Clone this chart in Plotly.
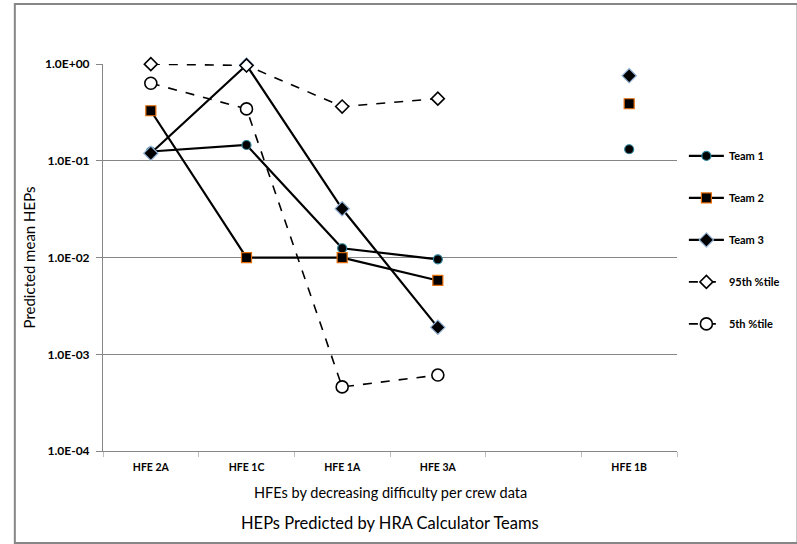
import plotly.graph_objects as go

# HFE categories ordered by decreasing difficulty (blank slot separates HFE 1B)
categories = ["HFE 2A", "HFE 1C", "HFE 1A", "HFE 3A", " ", "HFE 1B"]

team1 = [0.125, 0.146, 0.0125, 0.0096, None, 0.132]
team2 = [0.33, 0.010, 0.010, 0.0058, None, 0.39]
team3 = [0.12, 0.98, 0.032, 0.0019, None, 0.76]
pct95 = [1.0, 0.97, 0.365, 0.44, None, None]
pct05 = [0.636, 0.345, 0.00046, 0.00061, None, None]

y_tickvals = [1.0, 0.1, 0.01, 0.001, 0.0001]
y_ticktext = ["1.0E+00", "1.0E-01", "1.0E-02", "1.0E-03", "1.0E-04"]

FONT = "Lato"

fig = go.Figure()

fig.add_trace(go.Scatter(
    x=categories, y=team1, name="Team 1", mode="lines+markers",
    line=dict(color="black", width=2.2),
    marker=dict(symbol="circle", size=9, color="black",
                line=dict(color="#31859C", width=1.2)),
    legendgroup="g1", connectgaps=False, cliponaxis=False))
fig.add_trace(go.Scatter(
    x=categories, y=team2, name="Team 2", mode="lines+markers",
    line=dict(color="black", width=2.2),
    marker=dict(symbol="square", size=10, color="black",
                line=dict(color="#E46C0A", width=1.2)),
    legendgroup="g2", connectgaps=False, cliponaxis=False))
fig.add_trace(go.Scatter(
    x=categories, y=team3, name="Team 3", mode="lines+markers",
    line=dict(color="black", width=2.2),
    marker=dict(symbol="diamond", size=11, color="black",
                line=dict(color="#95B3D7", width=1.2)),
    legendgroup="g3", connectgaps=False, cliponaxis=False))
fig.add_trace(go.Scatter(
    x=categories, y=pct95, name="95th %tile", mode="lines+markers",
    line=dict(color="black", width=1.6, dash="dash"),
    marker=dict(symbol="diamond", size=10, color="white",
                line=dict(color="black", width=1.6)),
    legendgroup="g4", connectgaps=False, cliponaxis=False))
fig.add_trace(go.Scatter(
    x=categories, y=pct05, name="5th %tile", mode="lines+markers",
    line=dict(color="black", width=1.6, dash="dash"),
    marker=dict(symbol="circle", size=12, color="white",
                line=dict(color="black", width=1.6)),
    legendgroup="g5", connectgaps=False, cliponaxis=False))

# outer chart frame
fig.add_shape(type="rect", xref="paper", yref="paper",
              x0=-0.1536, x1=1.21, y0=-0.238, y1=1.155,
              line=dict(color="#868686", width=2), fillcolor="rgba(0,0,0,0)",
              layer="below")

fig.add_annotation(text="HFEs by decreasing difficulty per crew data",
                   xref="paper", yref="paper", x=0.5, y=-0.106,
                   xanchor="center", yanchor="middle", showarrow=False,
                   font=dict(family=FONT, size=14.5, color="black"))
fig.add_annotation(text="HEPs Predicted by HRA Calculator Teams",
                   xref="paper", yref="paper", x=0.5, y=-0.185,
                   xanchor="center", yanchor="middle", showarrow=False,
                   font=dict(family=FONT, size=16.5, color="black"))

fig.update_layout(
    width=797, height=544,
    margin=dict(l=103, r=118, t=64, b=93),
    paper_bgcolor="white", plot_bgcolor="white",
    font=dict(family=FONT, color="black"),
    showlegend=True,
    legend=dict(x=1.012, y=0.8, xanchor="left", yanchor="top",
                font=dict(family=FONT, size=11, color="black", weight="bold"),
                tracegroupgap=23, bgcolor="rgba(0,0,0,0)",
                itemwidth=35),
    xaxis=dict(type="category", categoryorder="array", categoryarray=categories,
               range=[-0.5, 5.5], showgrid=False, showline=True,
               linecolor="#868686", linewidth=1, ticks="outside",
               tickson="boundaries", ticklen=5, tickcolor="#BFBFBF",
               ticklabelstandoff=6,
               tickfont=dict(family=FONT, size=10.5, color="black", weight="bold"),
               zeroline=False),
    yaxis=dict(type="log", range=[-4, 0.002], tickvals=y_tickvals, ticktext=y_ticktext,
               showgrid=True, gridcolor="#868686", gridwidth=1,
               showline=True, linecolor="#868686", linewidth=1,
               ticks="outside", ticklen=6, tickcolor="#868686",
               ticklabelstandoff=4,
               tickfont=dict(family=FONT, size=12, color="black", weight="bold"),
               title=dict(text="Predicted mean HEPs", standoff=5,
                          font=dict(family=FONT, size=15, color="black")),
               zeroline=False),
)

fig.write_html("out.html")
